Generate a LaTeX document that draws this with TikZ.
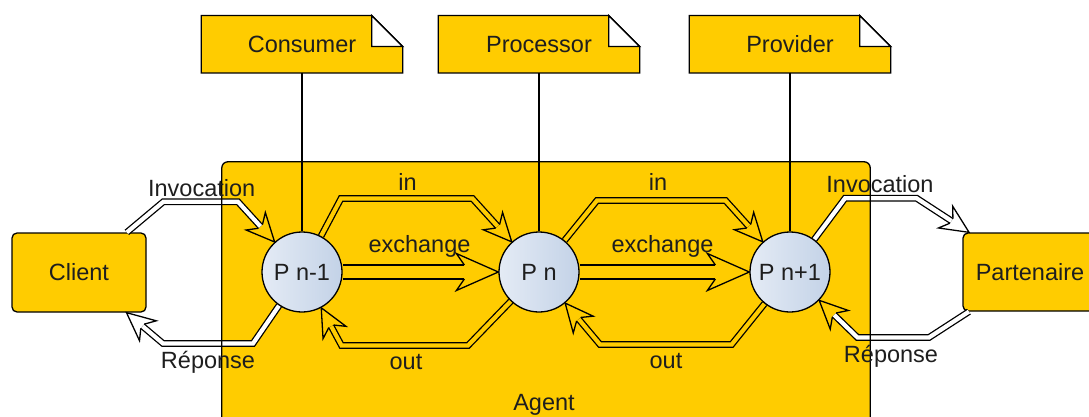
\documentclass[tikz,border=0pt]{standalone}
\usepackage{fontspec}
\setmainfont{Liberation Sans}
\usetikzlibrary{calc}

\definecolor{amber}{HTML}{FFCC00}
\definecolor{ink}{HTML}{1E1E1E}
\definecolor{balllight}{HTML}{E4EBF5}
\definecolor{balldark}{HTML}{C3D2E7}

\tikzset{
  txt/.style={font=\fontsize{23.5}{28}\selectfont, text=ink},
  box/.style={txt, draw=black, line width=1.3pt, fill=amber, rounded corners=5pt,
              minimum width=134pt, minimum height=79pt, inner sep=0pt},
  agentbox/.style={fill=amber, minimum width=648pt, minimum height=283pt, inner sep=0pt,
                   rounded corners=6pt},
  proc/.style={txt, circle, draw=black, line width=1.3pt, minimum size=80pt, inner sep=0pt,
               left color=balllight, right color=balldark},
  ghost/.style={circle, minimum size=80pt, inner sep=0pt, outer sep=0.65pt},
  notebox/.style={txt, minimum width=201pt, minimum height=57pt, inner sep=0pt},
  lbl/.style={txt, anchor=base, inner sep=0pt},
  conn/.style={draw=black, line width=1.3pt, double distance=4.2pt, line join=miter},
  wideconn/.style={draw=black, line width=1.3pt, double distance=12.7pt, line join=miter},
  headline/.style={draw=black, line width=1.3pt, line join=miter},
  tie/.style={draw=black, line width=1.3pt},
}

% open barbed head for the narrow double connectors: #1 tip, #2 previous bend
\newcommand\thinhead[2]{%
  \draw[headline] ($(#1)!21.2pt!7.4:(#2)$) -- ($(#1)!30.9pt!24.9:(#2)$) -- (#1)
    -- ($(#1)!30.9pt!-24.9:(#2)$) -- ($(#1)!21.2pt!-7.4:(#2)$);}
% same for the broad "exchange" connectors
\newcommand\widehead[2]{%
  \draw[headline] ($(#1)!34.7pt!11.6:(#2)$) -- ($(#1)!45.9pt!23.8:(#2)$) -- (#1)
    -- ($(#1)!45.9pt!-23.8:(#2)$) -- ($(#1)!34.7pt!-11.6:(#2)$);}
% folded note outline around a node
\newcommand\foldnote[1]{%
  \draw[line width=1.3pt, fill=amber] (#1.south west) -- (#1.north west)
    -- ([xshift=-31pt]#1.north east) -- ([yshift=-31pt]#1.north east) -- (#1.south east) -- cycle;
  \draw[line width=1.3pt, fill=white] ([xshift=-31pt]#1.north east)
    -- ([xshift=-31pt,yshift=-31pt]#1.north east) -- ([yshift=-31pt]#1.north east) -- cycle;}

\begin{document}
\begin{tikzpicture}[x=1pt, y=-1pt]
\useasboundingbox (0,0) rectangle (1089,417);

% agent area
\node[agentbox] (agent) at (546,303.5) {};

% outer boxes
\node[box] (client) at (79,272.5) {Client};
\node[box, minimum height=78pt] (partner) at (1030,272) {Partenaire};

% process circle outlines used for routing (drawn last)
\node[ghost] (p1) at (302,272) {};
\node[ghost] (p2) at (539,272) {};
\node[ghost] (p3) at (790,272) {};

% bend points
\coordinate (a1) at (163.3,201.8);  \coordinate (a2) at (238,201.8);
\coordinate (r1) at (253,343.5);    \coordinate (r2) at (163,343.5);
\coordinate (i1) at (341,198.5);    \coordinate (i2) at (472.5,198.5);
\coordinate (o1) at (468,345.5);    \coordinate (o2) at (341.5,345.5);
\coordinate (j1) at (597,200.5);    \coordinate (j2) at (725.5,200.5);
\coordinate (q1) at (731.7,344.5);  \coordinate (q2) at (600,344.5);
\coordinate (v1) at (845,198.3);    \coordinate (v2) at (916.7,198.3);
\coordinate (w1) at (929,337.5);    \coordinate (w2) at (857.5,337.5);

% tips on the borders
\path (a2) -- (p1) coordinate[pos=1] (tInv1);
\path (r2) -- (client) coordinate[pos=1] (tRep1);
\path (i2) -- (p2) coordinate[pos=1] (tIn1);
\path (p1) -- (p2) coordinate[pos=1] (tEx1);
\path (o2) -- (p1) coordinate[pos=1] (tOut1);
\path (j2) -- (p3) coordinate[pos=1] (tIn2);
\path (p2) -- (p3) coordinate[pos=1] (tEx2);
\path (q2) -- (p2) coordinate[pos=1] (tOut2);
\path (v2) -- (partner) coordinate[pos=1] (tInv2);
\path (w2) -- (p3) coordinate[pos=1] (tRep2);

% Client <-> P n-1
\draw[conn, double=white] (client) -- (a1) -- (a2) -- ($(tInv1)!21pt!(a2)$);
\thinhead{tInv1}{a2}
\draw[conn, double=white] (p1) -- (r1) -- (r2) -- ($(tRep1)!21pt!(r2)$);
\thinhead{tRep1}{r2}

% P n-1 <-> P n
\draw[conn, double=amber] (p1) -- (i1) -- (i2) -- ($(tIn1)!21pt!(i2)$);
\thinhead{tIn1}{i2}
\draw[wideconn, double=amber] (p1) -- ($(tEx1)!34pt!(p1)$);
\widehead{tEx1}{p1}
\draw[conn, double=amber] (p2) -- (o1) -- (o2) -- ($(tOut1)!21pt!(o2)$);
\thinhead{tOut1}{o2}

% P n <-> P n+1
\draw[conn, double=amber] (p2) -- (j1) -- (j2) -- ($(tIn2)!21pt!(j2)$);
\thinhead{tIn2}{j2}
\draw[wideconn, double=amber] (p2) -- ($(tEx2)!34pt!(p2)$);
\widehead{tEx2}{p2}
\draw[conn, double=amber] (p3) -- (q1) -- (q2) -- ($(tOut2)!21pt!(q2)$);
\thinhead{tOut2}{q2}

% P n+1 <-> Partenaire
\draw[conn, double=white] (p3) -- (v1) -- (v2) -- ($(tInv2)!21pt!(v2)$);
\thinhead{tInv2}{v2}
\draw[conn, double=white] (partner) -- (w1) -- (w2) -- ($(tRep2)!21pt!(w2)$);
\thinhead{tRep2}{w2}

% agent border over the connectors
\draw[line width=1.3pt, rounded corners=6pt] (agent.north west) rectangle (agent.south east);

% role notes
\node[notebox] (cons) at (302,44.3) {};
\node[notebox] (procn) at (539,44.3) {};
\node[notebox] (prov) at (790,44.3) {};
\foldnote{cons}
\foldnote{procn}
\foldnote{prov}
\node[txt] (tcons) at (cons) {Consumer};
\node[txt] (tproc) at (procn) {Processor};
\node[txt] (tprov) at (prov) {Provider};
\draw[tie] (cons) -- (p1);
\draw[tie] (procn) -- (p2);
\draw[tie] (prov) -- (p3);

% circles on top
\node[proc] (n1) at (p1) {P n-1};
\node[proc] (n2) at (p2) {P n};
\node[proc] (n3) at (p3) {P n+1};

% connector labels
\node[lbl] (lInv1) at (201.7,196.5) {Invocation};
\node[lbl] (lRep1) at (208,368) {Réponse};
\node[lbl] (lIn1) at (407.5,190) {in};
\node[lbl] (lEx1) at (419.5,252) {exchange};
\node[lbl] (lOut1) at (406,369.5) {out};
\node[lbl] (lIn2) at (658,190) {in};
\node[lbl] (lEx2) at (662.5,252) {exchange};
\node[lbl] (lOut2) at (666,368.5) {out};
\node[lbl] (lInv2) at (880,192.5) {Invocation};
\node[lbl] (lRep2) at (891,362) {Réponse};
\node[lbl] (lAgent) at (544,410.5) {Agent};
\end{tikzpicture}
\end{document}
